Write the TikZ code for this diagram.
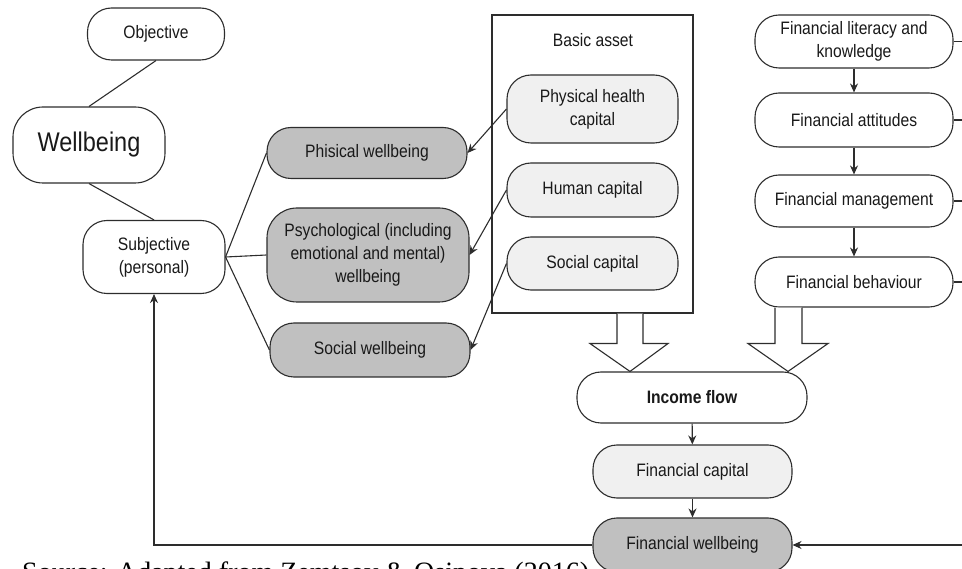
\documentclass[tikz,border=0pt]{standalone}
\usepackage{fontspec}
\setmainfont{Liberation Sans}[FakeStretch=0.87]
\newfontfamily\capfont{Liberation Serif}
\usetikzlibrary{arrows.meta,calc}
\definecolor{darkfill}{RGB}{192,192,192}
\definecolor{lightfill}{RGB}{240,240,240}
\definecolor{linecol}{RGB}{45,45,45}
\begin{document}
\begin{tikzpicture}[x=1pt,y=-1pt,
  box/.style={draw=linecol, line width=1.1pt, rounded corners=24pt, align=center, inner sep=0pt,
              font=\fontsize{18}{23}\selectfont, fill=white, text=black!90},
  dark/.style={box, fill=darkfill},
  light/.style={box, fill=lightfill},
  conn/.style={draw=linecol, line width=1.1pt},
  arr/.style={conn, -{Stealth[length=9pt,width=8pt]}},
  hollow/.style={draw=linecol, line width=1.1pt, fill=white, line join=miter}
]
\useasboundingbox (0,0) rectangle (962,569);
\clip (0,0) rectangle (962,569);

% left column
\node[box, minimum width=137pt, minimum height=52pt] (obj) at (156,34) {Objective};
\node[box, minimum width=152pt, minimum height=76pt, rounded corners=30pt,
      font=\fontsize{27}{30}\selectfont] (wb) at (89,145) {Wellbeing};
\node[box, minimum width=142pt, minimum height=73pt] (subj) at (154,257) {Subjective\\(personal)};

% wellbeing kinds
\node[dark, minimum width=200pt, minimum height=51pt] (phw) at (367,153) {Phisical wellbeing};
\node[dark, minimum width=202pt, minimum height=94pt, rounded corners=30pt] (psw) at (368,255)
      {Psychological (including\\emotional and mental)\\wellbeing};
\node[dark, minimum width=200pt, minimum height=54pt] (sow) at (370,350) {Social wellbeing};

% basic asset
\node[draw=linecol, line width=1.1pt, fill=white, minimum width=201pt, minimum height=298pt, inner sep=0pt]
      (basic) at (592.5,164) {};
\node[font=\fontsize{18}{23}\selectfont, text=black!90, inner sep=0pt] (basiclbl) at (593,40) {Basic asset};
\node[light, minimum width=171pt, minimum height=68pt] (phc) at (592.5,109) {Physical health\\capital};
\node[light, minimum width=171pt, minimum height=54pt] (huc) at (592.5,190) {Human capital};
\node[light, minimum width=171pt, minimum height=53pt] (soc) at (592.5,263.5) {Social capital};

% financial column
\node[box, minimum width=198pt, minimum height=53pt] (lit) at (854,41.5) {Financial literacy and\\knowledge};
\node[box, minimum width=198pt, minimum height=54pt] (att) at (854,120) {Financial attitudes};
\node[box, minimum width=198pt, minimum height=52pt] (man) at (854,201) {Financial management};
\node[box, minimum width=198pt, minimum height=50pt] (beh) at (854,282) {Financial behaviour};

% bottom chain
\node[box, minimum width=230pt, minimum height=51pt, font=\fontsize{18}{23}\selectfont\bfseries]
      (inc) at (692,397.5) {Income flow};
\node[light, minimum width=199pt, minimum height=53pt] (fc) at (692.5,471.5) {Financial capital};
\node[dark, minimum width=199pt, minimum height=54pt] (fw) at (692.5,545) {Financial wellbeing};

% caption (cut by the lower edge, as in the reference)
\node[anchor=base west, inner sep=0pt, font=\capfont\fontsize{28}{30}\selectfont] (src) at (22,581)
      {Source: Adapted from Zemtsov \& Osipova (2016)};

% connectors
\draw[conn] (obj.south) -- (wb.north);
\draw[conn] (wb.south) -- (subj.north);
\draw[conn] (subj.east) -- (phw.west);
\draw[conn] (subj.east) -- (psw.west);
\draw[conn] (subj.east) -- (sow.west);

\draw[arr] (phc.west) -- (phw.east);
\draw[arr] (huc.west) -- (psw.east);
\draw[arr] (soc.west) -- (sow.east);

\draw[arr] (lit) -- (att);
\draw[arr] (att) -- (man);
\draw[arr] (man) -- (beh);
\draw[arr] (inc) -- (fc);
\draw[arr] (fc) -- (fw);

\coordinate (redge) at (975,545);
\draw[conn] (lit.east) -- (lit.east -| redge);
\draw[conn] (att.east) -- (att.east -| redge);
\draw[conn] (man.east) -- (man.east -| redge);
\draw[conn] (beh.east) -- (beh.east -| redge);
\draw[arr] (redge) -- (fw.east);
\draw[arr] (fw.west) -| (subj.south);

% hollow block arrows
\draw[hollow] ($(basic.south)+(24.5,0)$) -- ($(basic.south)+(24.5,30)$) -- ($(basic.south)+(-2.5,30)$)
   -- ($(inc.north)+(-62,0)$) -- ($(basic.south)+(75.5,30)$) -- ($(basic.south)+(50.5,30)$)
   -- ($(basic.south)+(50.5,0)$);
\draw[hollow] ($(beh.south)+(-79,0)$) -- ($(beh.south)+(-79,36)$) -- ($(beh.south)+(-106,36)$)
   -- ($(inc.north)+(96,0)$) -- ($(beh.south)+(-26,36)$) -- ($(beh.south)+(-52,36)$)
   -- ($(beh.south)+(-52,0)$);
\end{tikzpicture}
\end{document}
